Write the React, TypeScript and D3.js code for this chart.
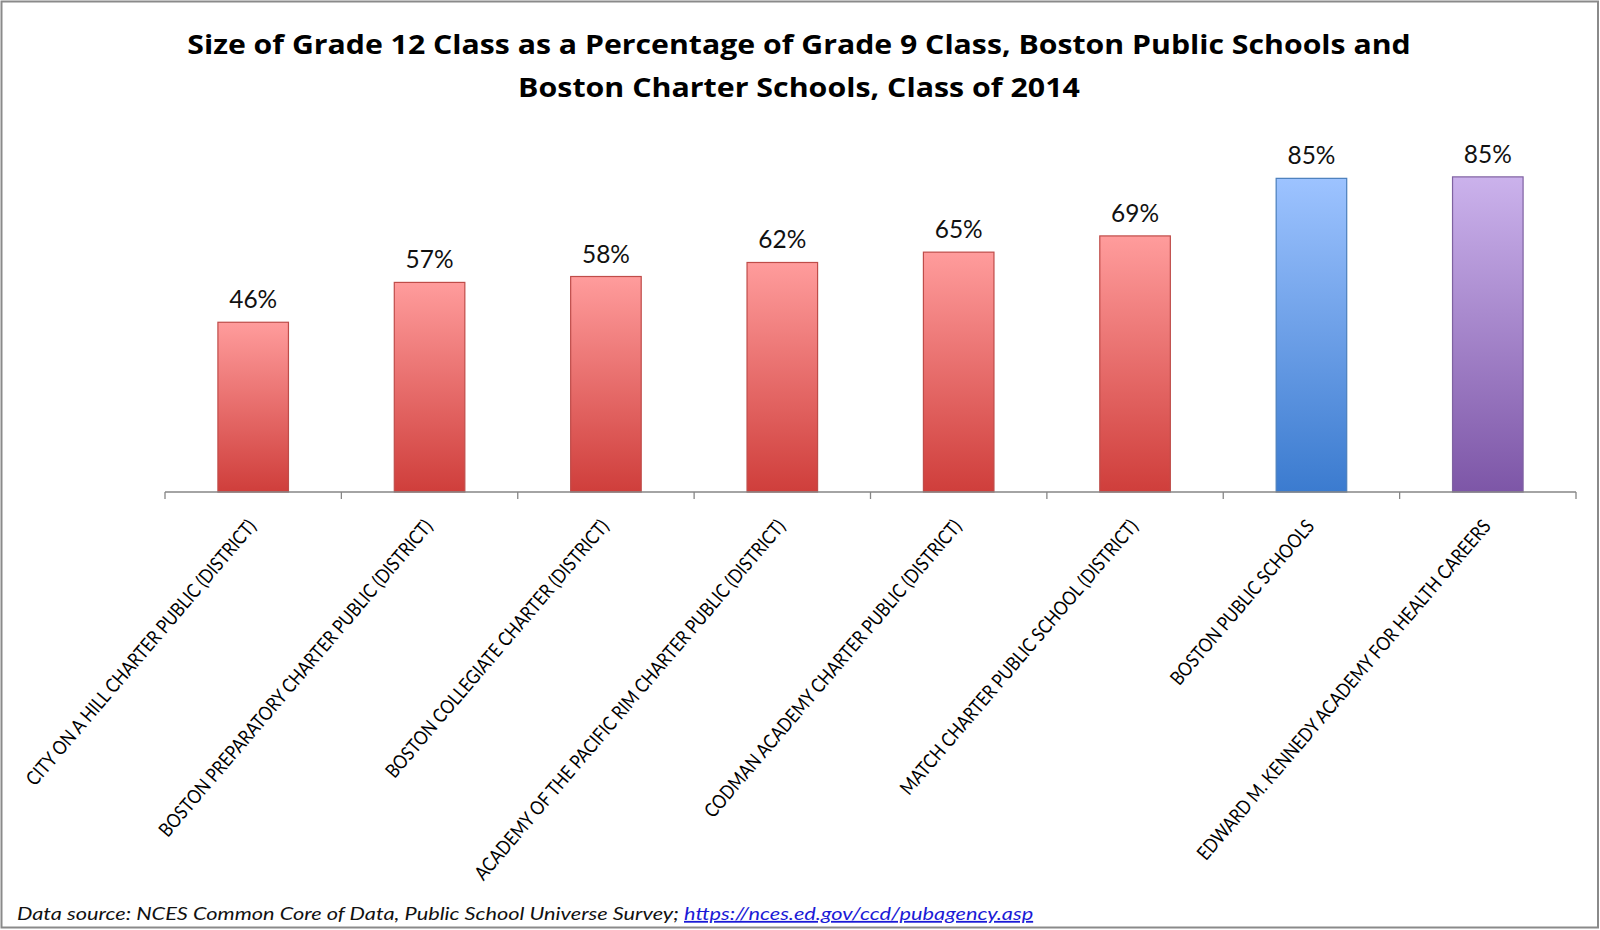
import React, { useEffect, useRef } from 'react';
import * as d3 from 'd3';

// chart data
const schools = [
  'CITY ON A HILL CHARTER PUBLIC (DISTRICT)',
  'BOSTON PREPARATORY CHARTER PUBLIC (DISTRICT)',
  'BOSTON COLLEGIATE CHARTER (DISTRICT)',
  'ACADEMY OF THE PACIFIC RIM CHARTER PUBLIC (DISTRICT)',
  'CODMAN ACADEMY CHARTER PUBLIC (DISTRICT)',
  'MATCH CHARTER PUBLIC SCHOOL (DISTRICT)',
  'BOSTON PUBLIC SCHOOLS',
  'EDWARD M. KENNEDY ACADEMY FOR HEALTH CAREERS',
];
const percents = [46.0, 56.8, 58.4, 62.2, 65.0, 69.4, 85.0, 85.4];
const valueLabels = ['46%', '57%', '58%', '62%', '65%', '69%', '85%', '85%'];
const schoolGroups = ['charter', 'charter', 'charter', 'charter', 'charter', 'charter', 'bps', 'kennedy'];

const titleLines = [
  'Size of Grade 12 Class as a Percentage of Grade 9 Class, Boston Public Schools and',
  'Boston Charter Schools, Class of 2014',
];
const sourceText = 'Data source: NCES Common Core of Data, Public School Universe Survey; ';
const sourceLink = 'https://nces.ed.gov/ccd/pubagency.asp';

const FONT = "Lato, 'Open Sans', sans-serif";
const TITLE_FONT = "'Open Sans', Lato, sans-serif";

const palette: Record<string, { top: string; bottom: string; stroke: string }> = {
  charter: { top: '#FF9C9C', bottom: '#CF3E3B', stroke: '#BF4C49' },
  bps: { top: '#9DC3FF', bottom: '#3B7BCF', stroke: '#4A7EBB' },
  kennedy: { top: '#CBB2EC', bottom: '#7D56A7', stroke: '#7F62A1' },
};

export default function App() {
  const ref = useRef<SVGSVGElement>(null);

  useEffect(() => {
    if (!ref.current) return;
    const svg = d3.select(ref.current);
    svg.selectAll('*').remove();

    const width = 1600;
    const height = 930;

    svg.append('rect').attr('width', width).attr('height', height).attr('fill', '#fff');
    // outer frame
    svg.append('rect')
      .attr('x', 1.5).attr('y', 1.5)
      .attr('width', 1596.5).attr('height', 926)
      .attr('fill', 'none').attr('stroke', '#8a8a8a').attr('stroke-width', 2);

    const x = d3.scaleBand<string>()
      .domain(schools)
      .range([165, 1576])
      .paddingInner(0.6)
      .paddingOuter(0.3);

    const y = d3.scaleLinear().domain([0, 100]).range([492, 123]);

    // gradients
    const defs = svg.append('defs');
    Object.keys(palette).forEach(k => {
      const g = defs.append('linearGradient')
        .attr('id', 'grad-' + k)
        .attr('x1', 0).attr('y1', 0).attr('x2', 0).attr('y2', 1);
      g.append('stop').attr('offset', '0%').attr('stop-color', palette[k].top);
      g.append('stop').attr('offset', '100%').attr('stop-color', palette[k].bottom);
    });

    // title
    const titleTargets = [1224, 562];
    const titleBase = [54, 97];
    titleLines.forEach((line, i) => {
      const t = svg.append('text')
        .attr('text-anchor', 'middle')
        .attr('font-family', TITLE_FONT)
        .attr('font-weight', 700)
        .attr('font-size', 27)
        .attr('fill', '#000')
        .text(line);
      const w = (t.node() as SVGTextElement).getComputedTextLength();
      t.attr('transform', `translate(799,${titleBase[i]}) scale(${titleTargets[i] / w},1)`);
    });

    // bars
    const data = schools.map((s, i) => ({ school: s, value: percents[i], label: valueLabels[i], group: schoolGroups[i] }));

    svg.append('g')
      .selectAll('rect')
      .data(data)
      .enter()
      .append('rect')
      .attr('x', d => x(d.school) || 0)
      .attr('y', d => y(d.value))
      .attr('width', x.bandwidth())
      .attr('height', d => y(0) - y(d.value))
      .attr('fill', d => `url(#grad-${d.group})`)
      .attr('stroke', d => palette[d.group].stroke)
      .attr('stroke-width', 1.2);

    // value labels
    const probe = svg.append('text').attr('font-family', FONT).attr('font-size', 25).text('46%');
    const valScale = 48 / (probe.node() as SVGTextElement).getComputedTextLength();
    probe.remove();

    svg.append('g')
      .selectAll('text')
      .data(data)
      .enter()
      .append('text')
      .attr('text-anchor', 'middle')
      .attr('font-family', FONT)
      .attr('font-size', 25)
      .attr('fill', '#111')
      .attr('transform', d => `translate(${(x(d.school) || 0) + x.bandwidth() / 2},${y(d.value) - 14}) scale(${valScale},1)`)
      .text(d => d.label);

    // x axis line and boundary ticks
    const [x0, x1] = x.range();
    const axis = svg.append('g').attr('stroke', '#868686').attr('stroke-width', 1.3);
    axis.append('line').attr('x1', x0).attr('x2', x1).attr('y1', y(0)).attr('y2', y(0));
    axis.selectAll('line.tick')
      .data(d3.range(schools.length + 1))
      .enter()
      .append('line')
      .attr('class', 'tick')
      .attr('x1', i => x0 + i * x.step())
      .attr('x2', i => x0 + i * x.step())
      .attr('y1', y(0))
      .attr('y2', y(0) + 7);

    // category labels, rotated
    const probe2 = svg.append('text').attr('font-family', FONT).attr('font-size', 19.5).text(schools[6]);
    const catScale = 210 / (probe2.node() as SVGTextElement).getComputedTextLength();
    probe2.remove();

    svg.append('g')
      .selectAll('text')
      .data(schools)
      .enter()
      .append('text')
      .attr('text-anchor', 'end')
      .attr('font-family', FONT)
      .attr('font-size', 19.5)
      .attr('fill', '#000')
      .attr('transform', d => `translate(${(x(d) || 0) + x.bandwidth() / 2 + 4},527) rotate(-49.5) scale(${catScale},1)`)
      .text(d => d);

    // footer
    const foot = svg.append('text')
      .attr('font-family', FONT)
      .attr('font-style', 'italic')
      .attr('font-size', 18)
      .attr('fill', '#111');
    foot.append('tspan').text(sourceText);
    foot.append('tspan')
      .attr('fill', '#1a1ad6')
      .attr('text-decoration', 'underline')
      .text(sourceLink);
    const fw = (foot.node() as SVGTextElement).getComputedTextLength();
    foot.attr('transform', `translate(17,920) scale(${1017 / fw},1)`);
  }, []);

  return (
    <svg
      ref={ref}
      width={1600}
      height={930}
      style={{ position: 'absolute', left: 0, top: 0, display: 'block' }}
    />
  );
}
